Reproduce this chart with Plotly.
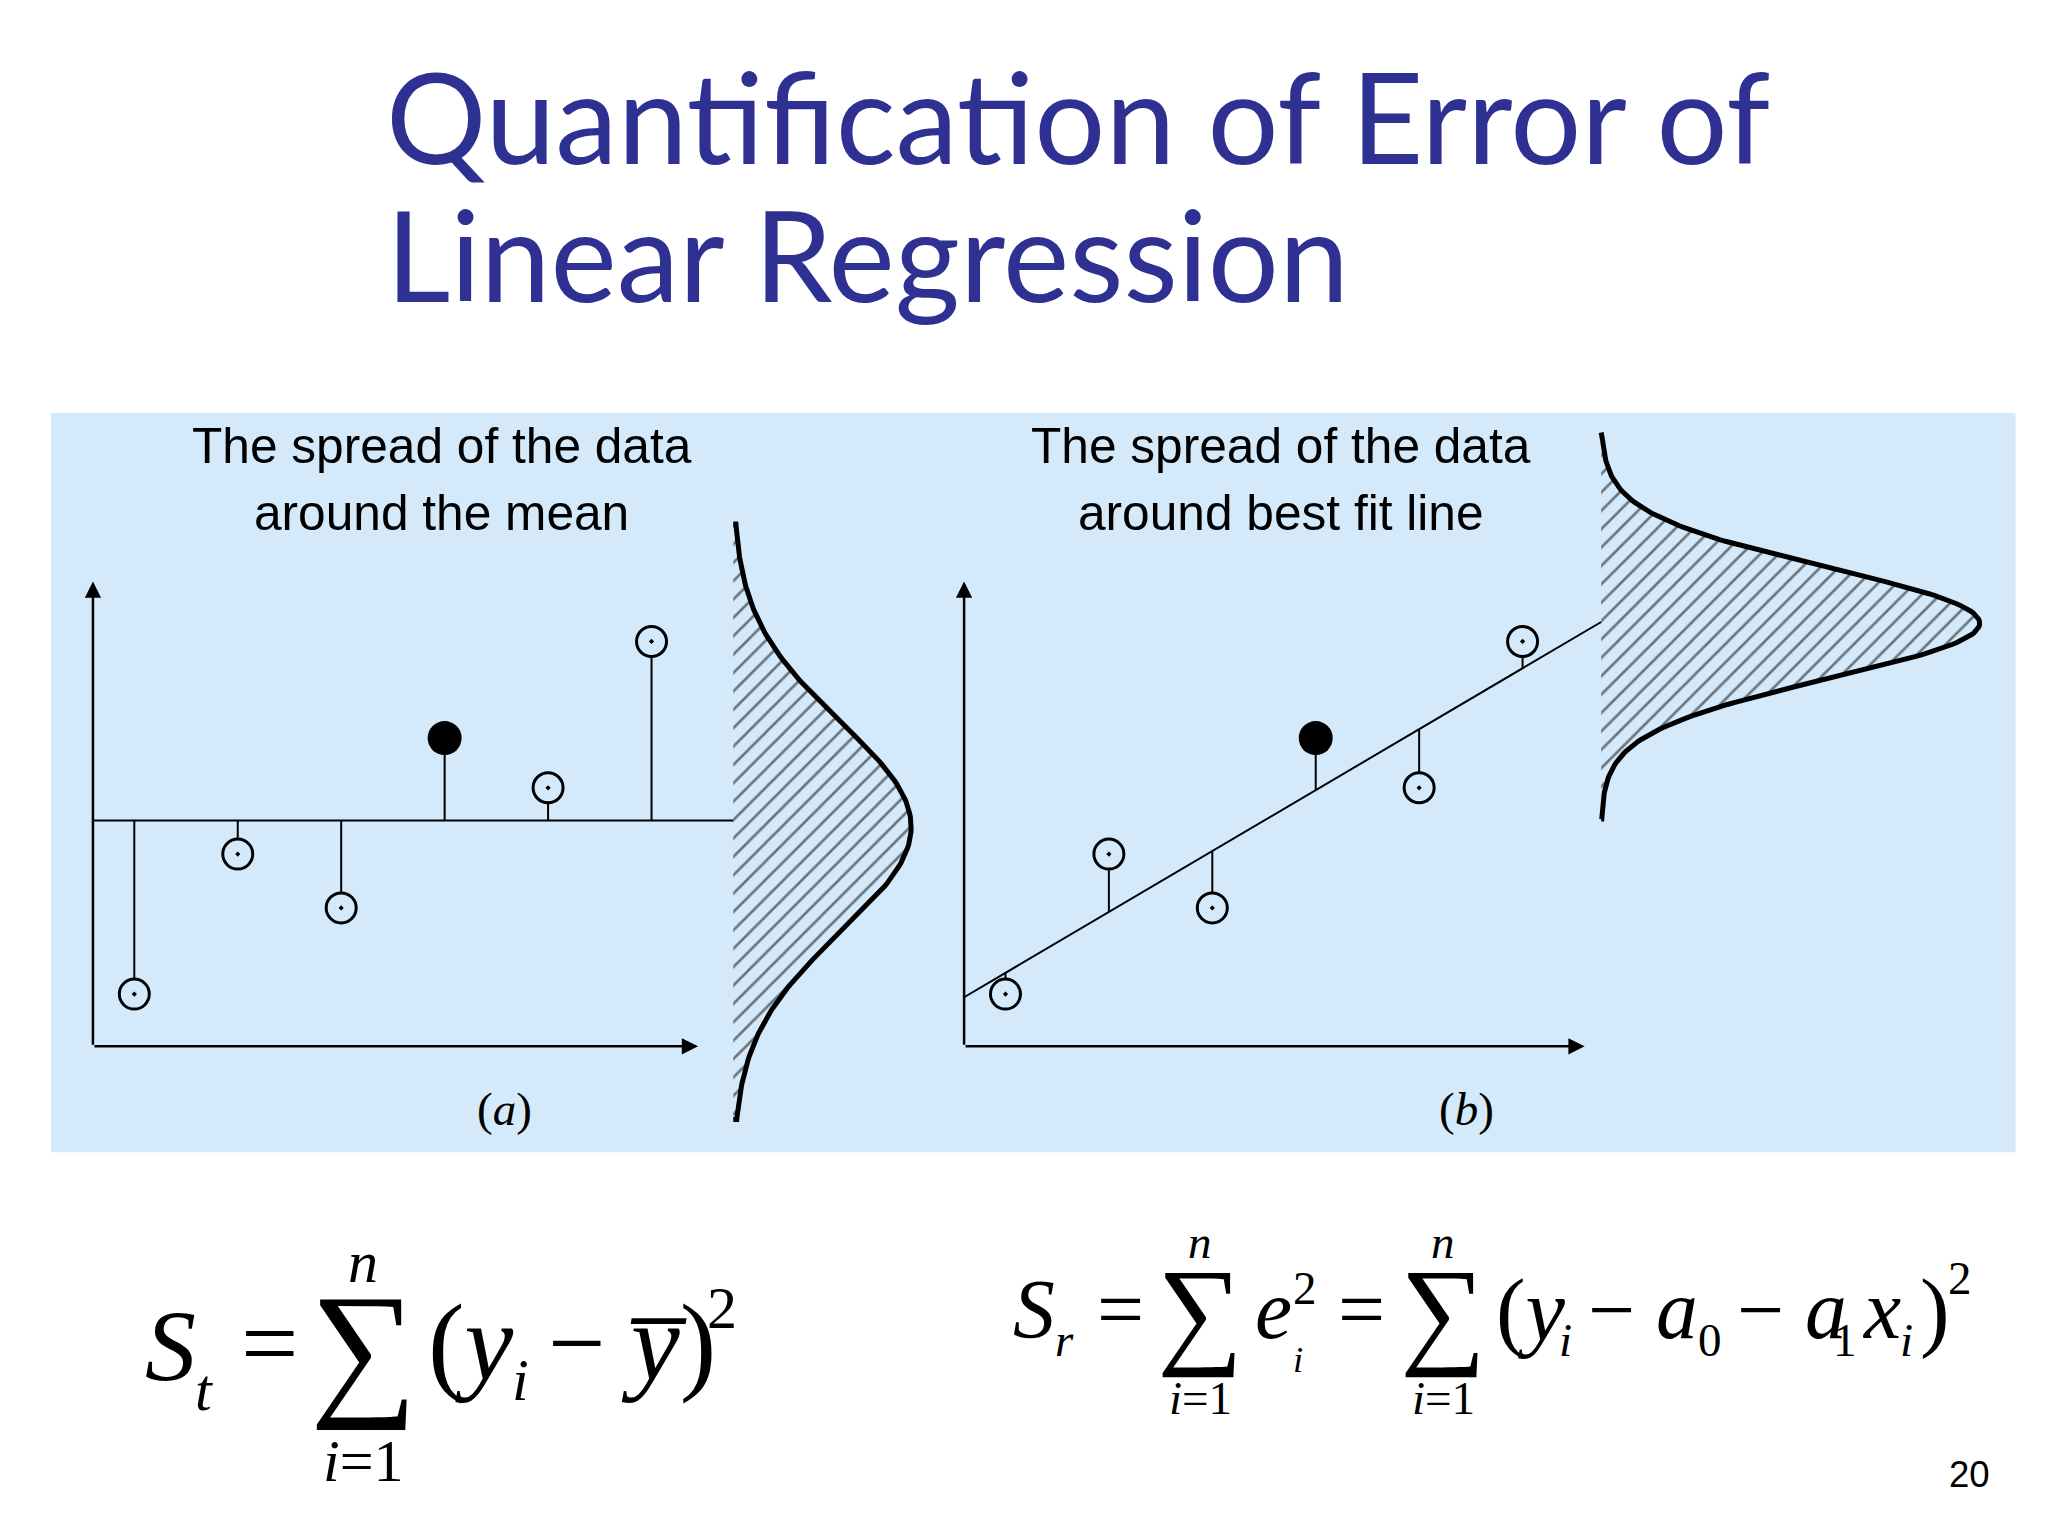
import numpy as np
import plotly.graph_objects as go

# data
x_pts = [1, 2, 3, 4, 5, 6]
y_pts = [1.0, 3.68, 2.65, 5.9, 4.95, 7.75]
highlight = 3  # filled marker index
title_lines = ["Quantification of Error of", "Linear Regression"]
caption_a = ["The spread of the data", "around the mean"]
caption_b = ["The spread of the data", "around best fit line"]
page_no = "20"

W, H = 1568.0, 1176.0  # layout grid of the reference
K = 2048 / W
def px(x): return x / W
def py(y): return 1 - y / H

x = np.array(x_pts)
y = np.array(y_pts)
ymean = y.mean()
a1, a0 = np.polyfit(x, y, 1)

fig = go.Figure()
INK = "black"
HATCH = dict(shape="/", fgcolor=INK, bgcolor="rgba(0,0,0,0)", size=13, solidity=0.2)

# ---------- panel (a): spread around the mean ----------
fig.add_trace(go.Scatter(x=[0.6, 6.79], y=[ymean, ymean], mode="lines",
                         line=dict(color=INK, width=2), xaxis="x", yaxis="y"))
for xi, yi in zip(x, y):
    fig.add_trace(go.Scatter(x=[xi, xi], y=[ymean, yi], mode="lines",
                             line=dict(color=INK, width=2), xaxis="x", yaxis="y"))
# bell curve (vertical)
yy = np.linspace(-1.4, 10.0, 200)
xx = 6.79 + 1.72 * np.exp(-(yy - 4.2) ** 2 / (2 * 2.0 ** 2))
fig.add_trace(go.Scatter(x=np.r_[6.79, xx, 6.79], y=np.r_[-1.4, yy, 10.0], fill="toself",
                         fillcolor="rgba(0,0,0,0)", line=dict(color=INK, width=5),
                         fillpattern=HATCH, xaxis="x", yaxis="y"))

# ---------- panel (b): spread around the best fit line ----------
xl = np.array([0.6, 6.76])
fig.add_trace(go.Scatter(x=xl, y=a0 + a1 * xl, mode="lines",
                         line=dict(color=INK, width=2), xaxis="x2", yaxis="y2"))
for xi, yi in zip(x, y):
    fig.add_trace(go.Scatter(x=[xi, xi], y=[a0 + a1 * xi, yi], mode="lines",
                             line=dict(color=INK, width=2), xaxis="x2", yaxis="y2"))
yy = np.linspace(4.35, 11.75, 200)
xx = 6.76 + 3.66 * np.exp(-(yy - 8.1) ** 2 / (2 * 1.05 ** 2))
fig.add_trace(go.Scatter(x=np.r_[6.76, xx, 6.76], y=np.r_[4.35, yy, 11.75], fill="toself",
                         fillcolor="rgba(0,0,0,0)", line=dict(color=INK, width=5),
                         fillpattern=HATCH, xaxis="x2", yaxis="y2"))

# markers for both panels
for xa, ya in (("x", "y"), ("x2", "y2")):
    open_i = [i for i in range(len(x)) if i != highlight]
    fig.add_trace(go.Scatter(x=x[open_i], y=y[open_i], mode="markers", xaxis=xa, yaxis=ya,
                             marker=dict(symbol="circle-dot", size=30, color="#d4eafa",
                                         line=dict(color=INK, width=3))))
    fig.add_trace(go.Scatter(x=[x[highlight]], y=[y[highlight]], mode="markers", xaxis=xa, yaxis=ya,
                             marker=dict(symbol="circle", size=34, color=INK)))

# axes arrows
ann = []
for xr, yr, xend in (("x", "y", 6.45), ("x2", "y2", 6.6)):
    ann.append(dict(x=xend, y=0, ax=0.6, ay=0, xref=xr, yref=yr, axref=xr, ayref=yr, text="",
                    showarrow=True, arrowhead=2, arrowsize=1.3, arrowwidth=2.5, arrowcolor=INK))
    ann.append(dict(x=0.6, y=8.9, ax=0.6, ay=0, xref=xr, yref=yr, axref=xr, ayref=yr, text="",
                    showarrow=True, arrowhead=2, arrowsize=1.3, arrowwidth=2.5, arrowcolor=INK))

def txt(x0, y0, s, size, family="Liberation Sans", color="black", xanchor="center", yanchor="middle"):
    ann.append(dict(x=px(x0), y=py(y0), xref="paper", yref="paper", text=s, showarrow=False,
                    xanchor=xanchor, yanchor=yanchor,
                    font=dict(size=size * K, family=family, color=color)))

# title
TC = "#2e3192"
txt(288, 82, title_lines[0], 96, "Comic Sans MS, Lato", TC, xanchor="left")
txt(288, 188, title_lines[1], 96, "Comic Sans MS, Lato", TC, xanchor="left")
# captions
txt(332, 335, caption_a[0], 38); txt(332, 387, caption_a[1], 38)
txt(975, 335, caption_b[0], 38); txt(975, 387, caption_b[1], 38)
txt(380, 843, "(<i>a</i>)", 36, "Liberation Serif")
txt(1117, 843, "(<i>b</i>)", 36, "Liberation Serif")
txt(1502, 1123, page_no, 28)

# formula 1
SF = "Liberation Serif"
txt(103, 1025, "<i>S</i>", 78, SF, xanchor="left")
txt(142, 1058, "<i>t</i>", 46, SF, xanchor="left")
txt(200, 1022, "=", 78, SF)
txt(272, 1025, "∑", 115, SF)
txt(272, 960, "<i>n</i>", 46, SF)
txt(272, 1112, "<i>i</i>=1", 46, SF)
txt(320, 1022, "(<i>y</i>", 84, SF, xanchor="left")
txt(384, 1050, "<i>i</i>", 46, SF, xanchor="left")
txt(412, 1022, "−", 78, SF, xanchor="left")
txt(468, 1022, "<i>y̅</i>)", 84, SF, xanchor="left")
txt(534, 995, "2", 46, SF, xanchor="left")

# formula 2
txt(768, 997, "<i>S</i>", 64, SF, xanchor="left")
txt(800, 1020, "<i>r</i>", 36, SF, xanchor="left")
txt(852, 997, "=", 64, SF)
txt(913, 998, "∑", 92, SF)
txt(913, 945, "<i>n</i>", 36, SF)
txt(913, 1064, "<i>i</i>=1", 36, SF)
txt(953, 997, "<i>e</i>", 64, SF, xanchor="left")
txt(982, 980, "2", 36, SF, xanchor="left")
txt(982, 1035, "<i>i</i>", 28, SF, xanchor="left")
txt(1036, 997, "=", 64, SF)
txt(1099, 998, "∑", 92, SF)
txt(1099, 945, "<i>n</i>", 36, SF)
txt(1099, 1064, "<i>i</i>=1", 36, SF)
txt(1138, 997, "(<i>y</i>", 68, SF, xanchor="left")
txt(1186, 1020, "<i>i</i>", 36, SF, xanchor="left")
txt(1208, 997, "− <i>a</i>", 64, SF, xanchor="left")
txt(1292, 1020, "0", 36, SF, xanchor="left")
txt(1322, 997, "− <i>a</i>", 64, SF, xanchor="left")
txt(1396, 1020, "1", 36, SF, xanchor="left")
txt(1418, 997, "<i>x</i>", 64, SF, xanchor="left")
txt(1447, 1020, "<i>i</i>", 36, SF, xanchor="left")
txt(1462, 997, ")", 68, SF, xanchor="left")
txt(1484, 972, "2", 36, SF, xanchor="left")

ydom = [py(875), py(315)]
ax_common = dict(visible=False, fixedrange=True)
fig.update_layout(
    width=2048, height=1536, margin=dict(l=0, r=0, t=0, b=0),
    paper_bgcolor="white", plot_bgcolor="rgba(0,0,0,0)", showlegend=False,
    xaxis=dict(domain=[px(17.5), px(809.5)], range=[0, 10], **ax_common),
    yaxis=dict(domain=ydom, range=[-2, 12], **ax_common),
    xaxis2=dict(domain=[px(684.5), px(1555.5)], range=[0, 11], **ax_common),
    yaxis2=dict(domain=ydom, range=[-2, 12], anchor="x2", **ax_common),
    shapes=[dict(type="rect", xref="paper", yref="paper", x0=px(33), x1=px(1537),
                 y0=py(876), y1=py(310), fillcolor="#d4eafa", line=dict(width=0), layer="below")],
    annotations=ann,
)
fig.write_html("out.html")
